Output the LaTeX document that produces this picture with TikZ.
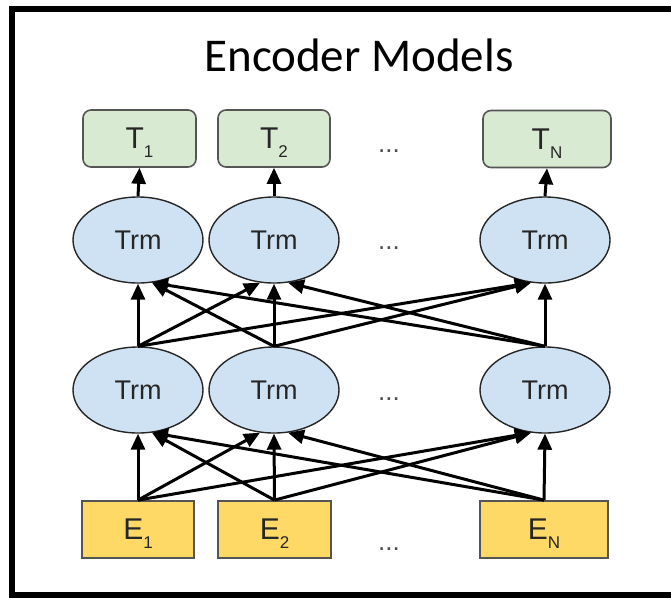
\documentclass[tikz,border=0pt]{standalone}
\usepackage{fontspec}
\setmainfont{Liberation Sans}
\newfontfamily\titlefont{Carlito}
\usetikzlibrary{shapes.geometric,arrows.meta,calc}
\definecolor{tgreen}{HTML}{D9EAD3}
\definecolor{trmblue}{HTML}{CFE2F3}
\definecolor{eyellow}{HTML}{FFD966}
\definecolor{edgegray}{HTML}{555555}
\definecolor{txtcol}{HTML}{262626}
\newcommand\mysubs[1]{\smash{\raisebox{-9pt}{\fontsize{17}{17}\selectfont #1}}}
\begin{document}
\begin{tikzpicture}[x=1pt,y=-1pt,
  tbox/.style={draw=edgegray, line width=1.6pt, fill=tgreen, rounded corners=8pt,
    minimum height=57pt, inner sep=0pt, text=txtcol, font=\fontsize{30}{30}\selectfont},
  ebox/.style={draw=edgegray, line width=1.8pt, fill=eyellow,
    minimum height=57pt, inner sep=0pt, text=txtcol, font=\fontsize{30}{30}\selectfont},
  trm/.style={ellipse, draw=txtcol, line width=1.4pt, fill=trmblue,
    minimum width=130pt, minimum height=86pt, inner sep=0pt, text=txtcol,
    font=\fontsize{27}{27}\selectfont},
  conn/.style={line width=3pt, -{Triangle[length=16pt,width=14pt]}},
  dotsnode/.style={anchor=base, text=black!70, font=\fontsize{26}{26}\selectfont},
  framestyle/.style={line width=6pt}
]
\useasboundingbox (0,0) rectangle (671,597);
\draw[framestyle] (690,9) -- (12,9) -- (12,595) -- (690,595);

\node[anchor=base, font=\titlefont\fontsize{47}{47}\selectfont] (title) at (359,71) {Encoder Models};

% output boxes
\node[tbox, minimum width=113pt] (t1) at (139.5,138.5) {T\mysubs{1}};
\node[tbox, minimum width=112pt] (t2) at (274,138.5) {T\mysubs{2}};
\node[tbox, minimum width=128pt] (tn) at (547,139) {T\mysubs{N}};

% transformer layers
\node[trm] (u1) at (138,240) {Trm};
\node[trm] (u2) at (274,240) {Trm};
\node[trm] (un) at (545,240) {Trm};
\node[trm] (m1) at (138,390) {Trm};
\node[trm] (m2) at (274,390) {Trm};
\node[trm] (mn) at (545,390) {Trm};

% embeddings
\node[ebox, minimum width=112pt] (e1) at (138,529.5) {E\mysubs{1}};
\node[ebox, minimum width=113pt] (e2) at (274.5,529.5) {E\mysubs{2}};
\node[ebox, minimum width=128pt] (en) at (544,529.5) {E\mysubs{N}};

% dots
\node[dotsnode] (d1) at (389,152) {...};
\node[dotsnode] (d2) at (389,249) {...};
\node[dotsnode] (d3) at (389,400) {...};
\node[dotsnode] (d4) at (389,550) {...};

% arrows
\draw[conn] (u1.north) -- (t1.south);
\draw[conn] (u2.north) -- (t2.south);
\draw[conn] (un.north) -- (tn.south);

\foreach \a/\ai in {e1/1,e2/2,en/3}{
  \foreach \b/\bi in {m1/1,m2/2,mn/3}{
    \pgfmathsetmacro\off{14*sign(\ai-\bi)}
    \draw[conn] (\a.north) -- ($(\b.south)+(\off,{-abs(\off)/14})$);
  }
}
\foreach \a/\ai in {m1/1,m2/2,mn/3}{
  \foreach \b/\bi in {u1/1,u2/2,un/3}{
    \pgfmathsetmacro\off{14*sign(\ai-\bi)}
    \draw[conn] (\a.north) -- ($(\b.south)+(\off,{-abs(\off)/14})$);
  }
}
\end{tikzpicture}
\end{document}
